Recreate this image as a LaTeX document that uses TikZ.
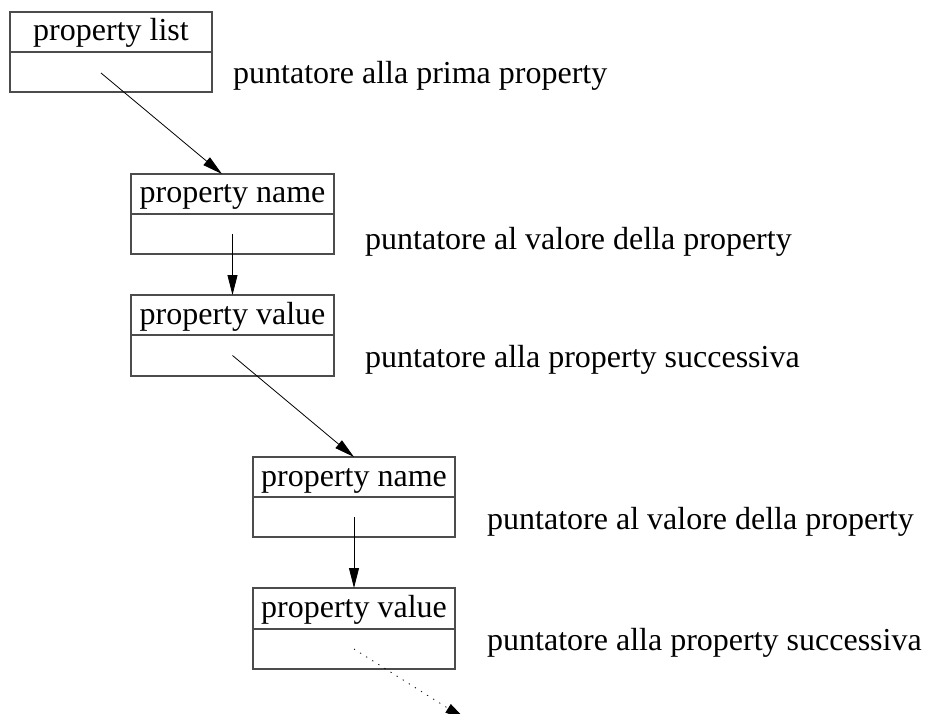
\documentclass[tikz,border=0pt]{standalone}
\usepackage{fontspec}
\setmainfont{Liberation Serif}
\usetikzlibrary{arrows.meta}
\begin{document}
\begin{tikzpicture}[x=1pt,y=-1pt,
  cell/.style={draw=black!70, line width=1.1pt, rectangle, minimum width=202pt, minimum height=40pt,
    inner sep=0pt, outer sep=0pt, text height=22pt, text depth=4pt,
    font=\fontsize{32}{38}\selectfont},
  lbl/.style={anchor=base west, inner sep=0pt, font=\fontsize{32}{38}\selectfont},
  ptr/.style={line width=0.8pt, -{Triangle[length=20pt,width=10pt]}},
  dotptr/.style={ptr, dash pattern=on 1.2pt off 6pt}]
\useasboundingbox (0,0) rectangle (929,714);
% box 1
\node[cell] (b1t) at (111,32) {property list};
\node[cell] (b1b) at (111,72) {};
\node[lbl] (l1) at (233,84) {puntatore alla prima property};
% box 2
\node[cell, minimum width=203pt] (b2t) at (232.5,194) {property name};
\node[cell, minimum width=203pt] (b2b) at (232.5,234) {};
\node[lbl] (l2) at (365,250) {puntatore al valore della property};
% box 3
\node[cell, minimum width=203pt] (b3t) at (232.5,315) {property value};
\node[cell, minimum width=203pt, minimum height=41pt] (b3b) at (232.5,355.5) {};
\node[lbl] (l3) at (365,367) {puntatore alla property successiva};
% box 4
\node[cell] (b4t) at (354,477) {property name};
\node[cell] (b4b) at (354,517) {};
\node[lbl] (l4) at (487,529) {puntatore al valore della property};
% box 5
\node[cell, minimum height=41pt] (b5t) at (354,608.5) {property value};
\node[cell] (b5b) at (354,649) {};
\node[lbl] (l5) at (487,650) {puntatore alla property successiva};
% connector points
\coordinate (s1) at (101,73);
\coordinate (e1) at (222,174);
\coordinate (e5) at (465,719);
% pointers
\draw[ptr] (s1) -- (e1);
\draw[ptr] (b2b.center) -- (b3t.north);
\draw[ptr] (b3b.center) -- (b4t.north);
\draw[ptr] (b4b.center) -- (b5t.north);
\draw[dotptr] (b5b.center) -- (e5);
\end{tikzpicture}
\end{document}
